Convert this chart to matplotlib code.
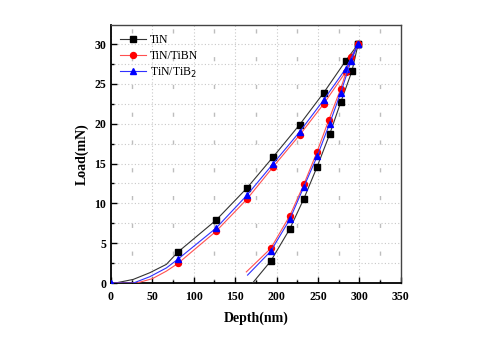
import matplotlib
matplotlib.use('Agg')
import matplotlib.pyplot as plt
from matplotlib.ticker import MultipleLocator

# loading curves (depth nm, load mN)
tin_load_x = [0, 5, 27, 47, 67, 81, 127, 164, 196, 228, 257, 283.5, 298.5]
tin_load_y = [0, 0, 0.46, 1.3, 2.35, 3.9, 7.9, 11.9, 15.85, 19.9, 23.9, 27.9, 30.0]
tibn_load_x = [0, 31, 50, 67, 81, 127, 164, 196, 228, 257, 283.5, 298.5]
tibn_load_y = [0, 0, 0.55, 1.5, 2.47, 6.5, 10.5, 14.6, 18.6, 22.5, 26.5, 30.0]
tib2_load_x = [0, 27, 47, 67, 81, 127, 164, 196, 228, 257, 283.5, 298.5]
tib2_load_y = [0, 0, 0.8, 1.9, 3.0, 6.9, 11.0, 15.0, 19.0, 23.0, 26.9, 30.0]

# unloading curves
tin_unl_x = [171, 193, 216, 233, 249, 264, 277.5, 291, 298.5]
tin_unl_y = [0, 2.76, 6.8, 10.6, 14.6, 18.65, 22.7, 26.6, 30.0]
tibn_unl_x = [163.5, 193, 216, 233, 249, 263, 277.5, 290, 298.5]
tibn_unl_y = [1.4, 4.35, 8.45, 12.4, 16.5, 20.45, 24.4, 28.4, 30.0]
tib2_unl_x = [165, 193, 216, 233, 249, 264, 277.5, 290, 298.5]
tib2_unl_y = [1.0, 4.0, 8.0, 12.1, 15.9, 20.0, 23.9, 27.9, 30.0]

# which points carry a marker
tin_load_mk = [5, 6, 7, 8, 9, 10, 11, 12]
tibn_load_mk = [4, 5, 6, 7, 8, 9, 10, 11]
tib2_load_mk = [0, 4, 5, 6, 7, 8, 9, 10, 11]
unl_mk = [1, 2, 3, 4, 5, 6, 7, 8]

plt.rcParams['font.family'] = ['Liberation Serif', 'DejaVu Serif']

fig = plt.figure(figsize=(4.8, 3.37), dpi=100)
ax = fig.add_axes([0.231, 0.160, 0.604, 0.766])

ax.plot(tin_load_x, tin_load_y, color='#333333', lw=0.8, marker='s', ms=4.3,
        mfc='black', mec='black', markevery=tin_load_mk, label='TiN', zorder=3)
ax.plot(tin_unl_x, tin_unl_y, color='#333333', lw=0.8, marker='s', ms=4.3,
        mfc='black', mec='black', markevery=unl_mk, zorder=3)
ax.plot(tibn_load_x, tibn_load_y, color='#ff5050', lw=0.8, marker='o', ms=4.3,
        mfc='red', mec='red', markevery=tibn_load_mk, label='TiN/TiBN', zorder=4)
ax.plot(tibn_unl_x, tibn_unl_y, color='#ff5050', lw=0.8, marker='o', ms=4.3,
        mfc='red', mec='red', markevery=unl_mk, zorder=4)
ax.plot(tib2_load_x, tib2_load_y, color='#3030ff', lw=0.8, marker='^', ms=4.8,
        mfc='blue', mec='blue', markevery=tib2_load_mk, label='TiN/TiB$_2$', zorder=5)
ax.plot(tib2_unl_x, tib2_unl_y, color='#3030ff', lw=0.8, marker='^', ms=4.8,
        mfc='blue', mec='blue', markevery=unl_mk, zorder=5)

ax.set_xlim(0, 350)
ax.set_ylim(0, 32.4)
ax.xaxis.set_major_locator(MultipleLocator(50))
ax.xaxis.set_minor_locator(MultipleLocator(25))
ax.yaxis.set_major_locator(MultipleLocator(5))
ax.yaxis.set_minor_locator(MultipleLocator(2.5))

ax.grid(which='major', axis='both', color='#c8c8c8', linestyle=(0, (1, 2)), lw=0.8)
ax.grid(which='minor', axis='y', color='#c8c8c8', linestyle=(0, (1, 2)), lw=0.8)
ax.grid(which='minor', axis='x', color='#bdbdbd', linestyle=(0, (3, 17)), lw=1.0)
ax.set_axisbelow(True)

ax.tick_params(which='both', direction='in', top=False, right=False,
               labelsize=8.5, width=1.0)
ax.tick_params(which='major', length=4)
ax.tick_params(which='minor', length=2)
ax.tick_params(axis='x', pad=6)
for lab in ax.get_xticklabels() + ax.get_yticklabels():
    lab.set_fontweight('bold')

for s in ['left', 'bottom']:
    ax.spines[s].set_linewidth(1.3)
for s in ['top', 'right']:
    ax.spines[s].set_linewidth(1.0)
    ax.spines[s].set_color('#444444')

ax.set_xlabel('Depth(nm)', fontsize=10, fontweight='bold', labelpad=6)
ax.set_ylabel('Load(mN)', fontsize=10, fontweight='bold', labelpad=4)

ax.legend(loc='upper left', frameon=False, fontsize=8.5, handlelength=2.2,
          borderaxespad=0.4, labelspacing=0.3, handletextpad=0.3)

fig.savefig('out.png', dpi=100)
